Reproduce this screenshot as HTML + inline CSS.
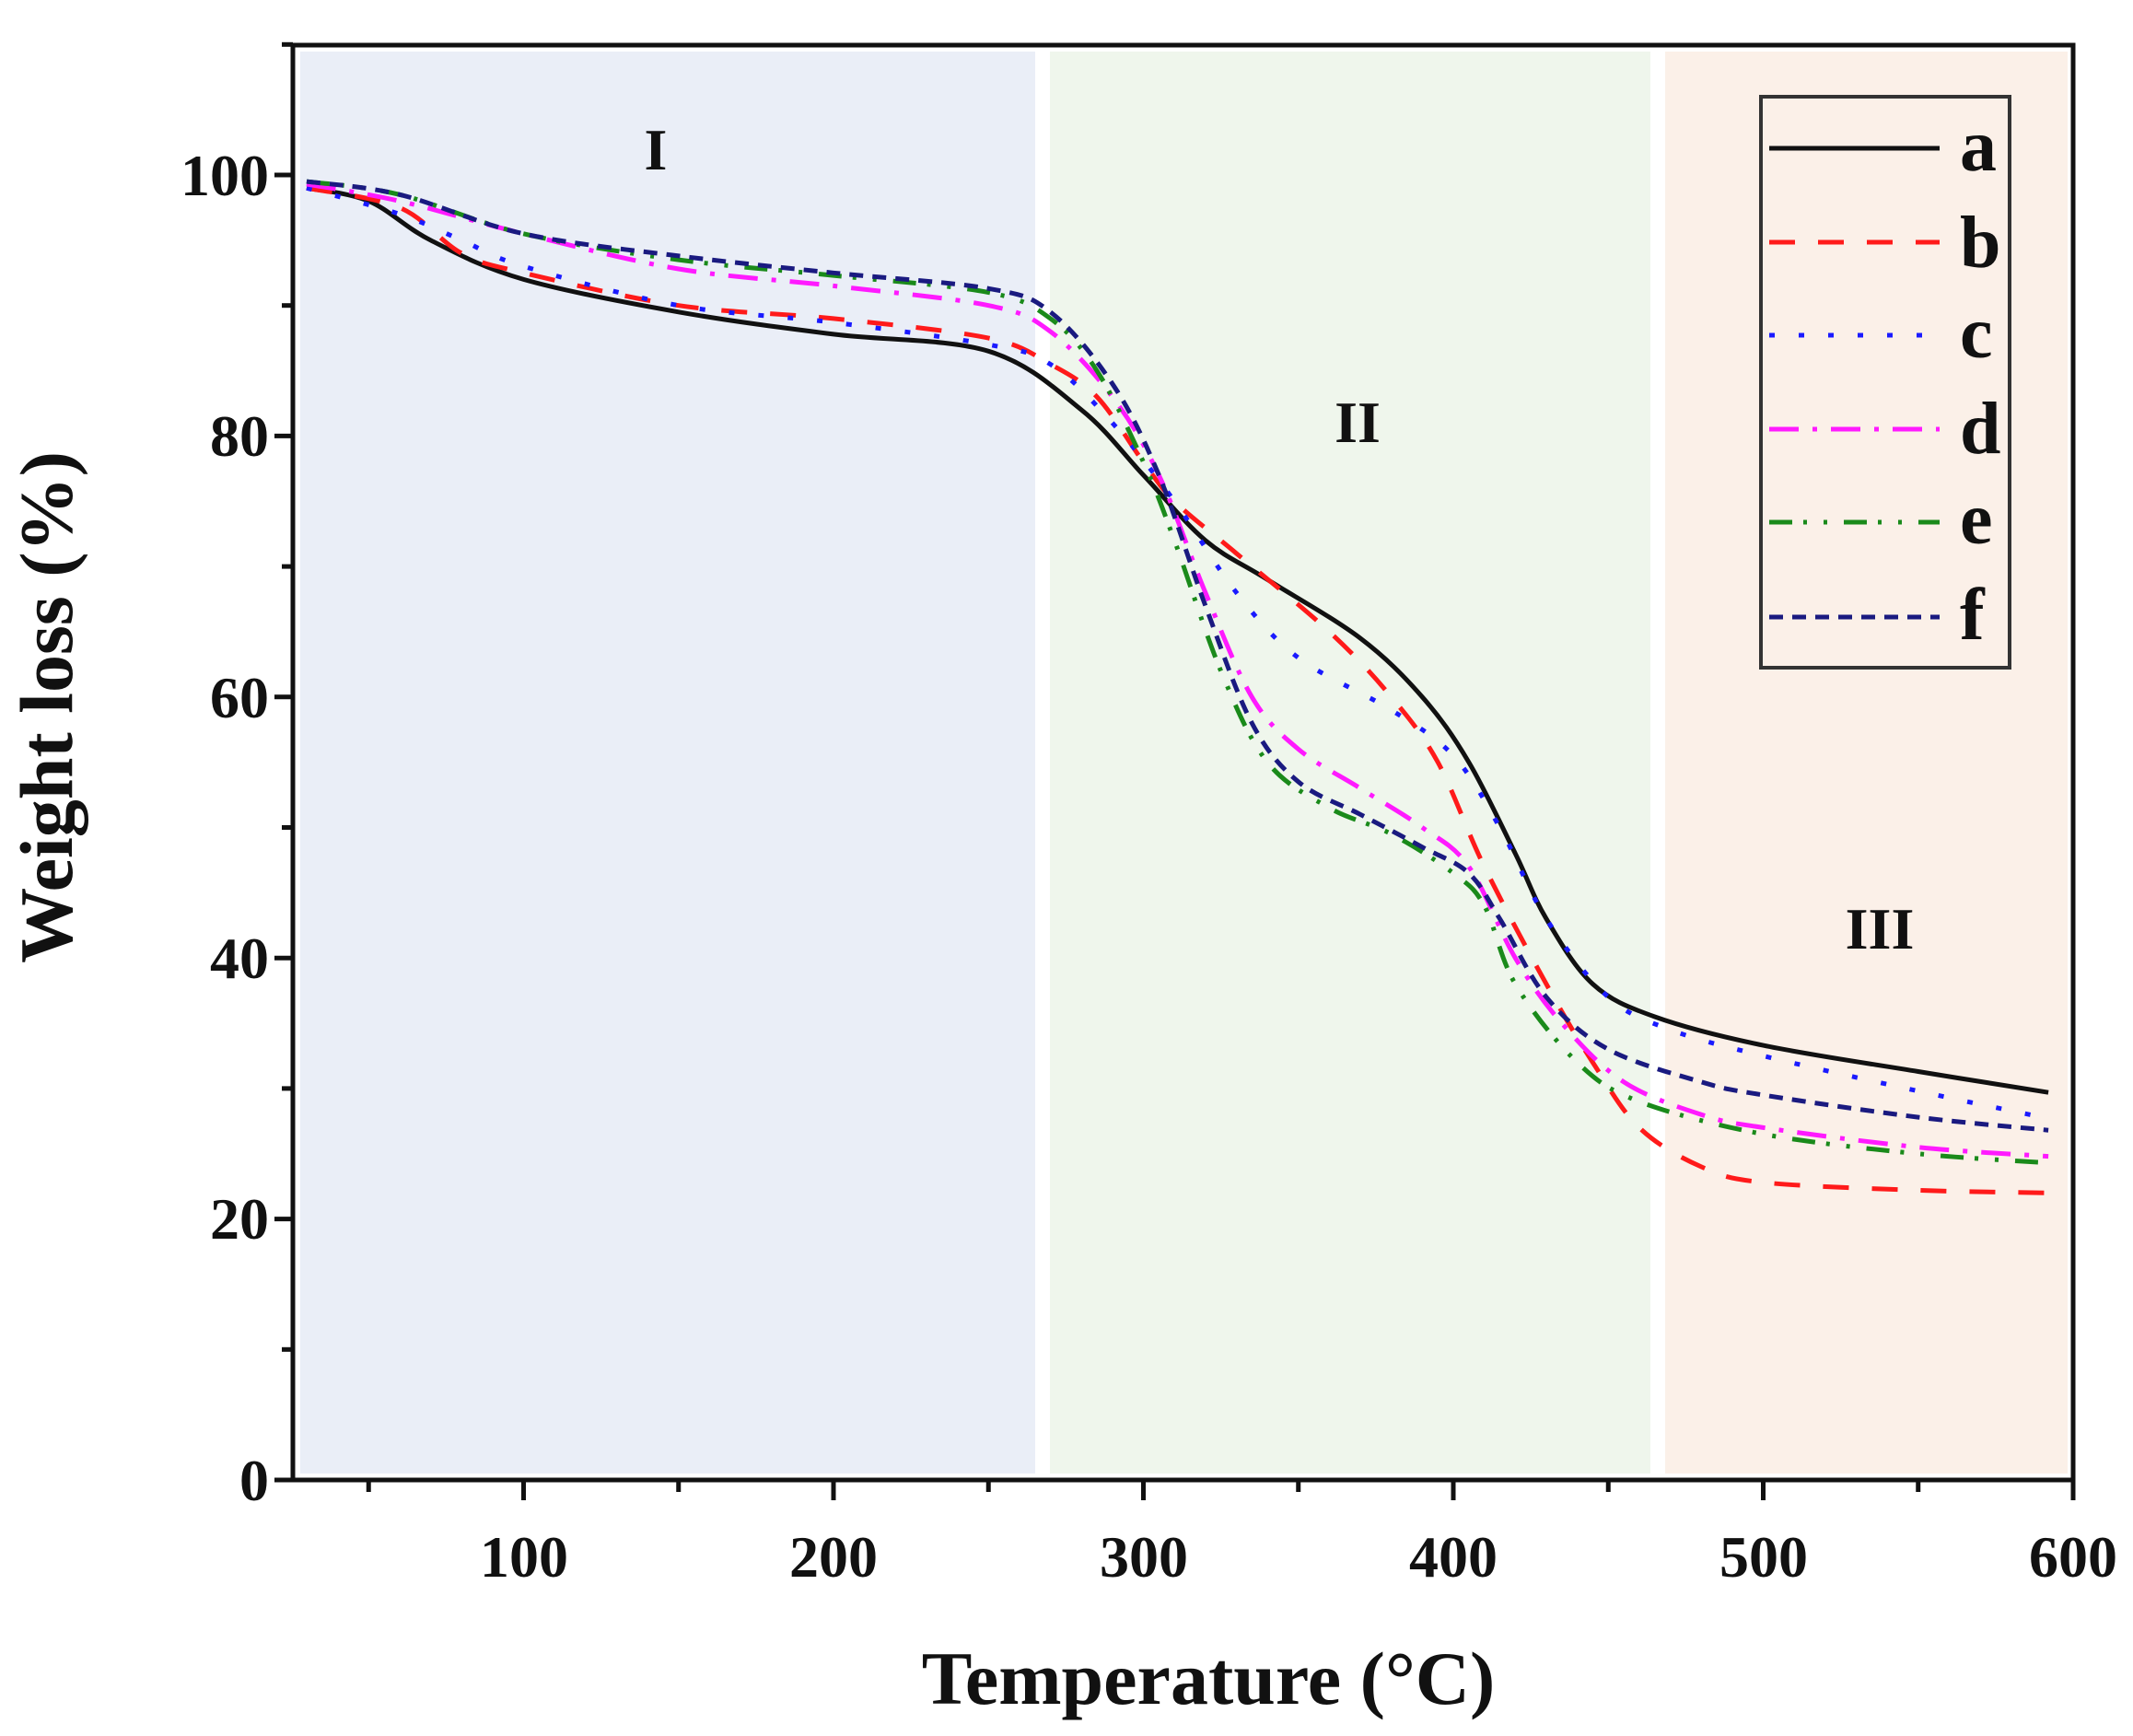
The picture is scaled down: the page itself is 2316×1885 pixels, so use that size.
<!DOCTYPE html>
<html><head><meta charset="utf-8">
<style>
html,body{margin:0;padding:0;background:#fff;}
svg{display:block;}
text{font-family:"Liberation Serif",serif;font-weight:bold;fill:#111;}
</style></head>
<body>
<svg id="s" width="2316" height="1885" viewBox="0 0 2316 1885" xmlns="http://www.w3.org/2000/svg">
<rect x="0" y="0" width="2316" height="1885" fill="#fff"/>
<rect x="326" y="56" width="798" height="1544" fill="#eaeef7"/>
<rect x="1140" y="56" width="652" height="1544" fill="#eff6ec"/>
<rect x="1808" y="56" width="437" height="1544" fill="#fbf0e8"/>
<g id="curves" fill="none" stroke-width="5"></g>
<rect x="318" y="49" width="1933" height="1558" fill="none" stroke="#111" stroke-width="5"/>
<g id="ticks" stroke="#111" stroke-width="5"></g>
<g font-size="64" text-anchor="end">
<text x="292" y="1629">0</text>
<text x="292" y="1345">20</text>
<text x="292" y="1062">40</text>
<text x="292" y="779">60</text>
<text x="292" y="495">80</text>
<text x="292" y="212">100</text>
</g>
<g font-size="64" text-anchor="middle">
<text x="569" y="1712">100</text>
<text x="905" y="1712">200</text>
<text x="1242" y="1712">300</text>
<text x="1578" y="1712">400</text>
<text x="1915" y="1712">500</text>
<text x="2251" y="1712">600</text>
</g>
<text x="1312" y="1850" font-size="82" text-anchor="middle">Temperature (°C)</text>
<text transform="translate(78,768) rotate(-90)" font-size="82" text-anchor="middle">Weight loss (%)</text>
<g font-size="64" text-anchor="middle">
<text x="712" y="184">I</text>
<text x="1474" y="480">II</text>
<text x="2041" y="1030">III</text>
</g>
<rect x="1912" y="105" width="270" height="620" fill="none" stroke="#333" stroke-width="4"/>
<g id="leg" stroke-width="5"></g>
<g font-size="80">
<text x="2128" y="185">a</text>
<text x="2128" y="290">b</text>
<text x="2128" y="388">c</text>
<text x="2128" y="492">d</text>
<text x="2128" y="590">e</text>
<text x="2128" y="694">f</text>
</g>
</svg>
<script>
var NS="http://www.w3.org/2000/svg";
function X(t){return 1241.5+(t-300)*3.365;}
function Y(v){return 1607-v*14.17;}
var series=[
 ["#111","",[[30,99],[50,98],[70,95],[100,92],[150,89.5],[200,87.8],[250,86.5],[280,82],[300,77],[320,72],[340,69],[370,64.5],[390,60],[405,55],[420,48],[430,43],[445,38],[465,35.5],[500,33.3],[550,31.3],[592,29.7]]],
 ["#ff1a1a","28 25",[[30,99],[60,97.5],[80,94],[100,92.5],[150,90],[200,89],[250,87.5],[270,85.5],[285,83],[300,78],[310,75],[330,71],[360,65],[380,60],[395,55],[410,47],[430,38],[445,32],[460,27],[480,24],[500,22.8],[550,22.2],[592,22]]],
 ["#1a1aff","6 26",[[30,99],[60,97],[80,95],[100,93],[150,90],[200,88.7],[250,87],[270,85.5],[290,81],[310,75],[330,68],[350,63],[380,59],[400,55.5],[415,50],[430,43],[450,37],[470,34.5],[500,32.5],[550,29.8],[592,27.7]]],
 ["#ff1aff","32 15 5 15",[[30,99.3],[60,98],[100,95.5],[150,92.8],[200,91.5],[250,90],[270,88],[290,83],[305,77],[320,68],[335,60],[350,56],[370,53],[390,50],[405,47],[420,40],[435,35],[455,30.5],[480,28],[500,27],[550,25.5],[592,24.8]]],
 ["#1a8a1a","25 12 4 18 4 18",[[30,99.5],[60,98.5],[100,95.5],[150,93.5],[200,92.3],[250,91],[270,89],[285,85],[300,78],[310,72],[325,62],[340,55],[360,51.5],[380,49.5],[400,46.5],[410,44],[420,38],[440,32],[460,29],[500,26.5],[550,25],[592,24.3]]],
 ["#1a1a80","15 10",[[30,99.5],[60,98.5],[100,95.5],[150,93.8],[200,92.5],[250,91.3],[270,89.5],[290,84],[305,77],[320,67],[335,58],[350,53.5],[370,51],[390,48.5],[405,46.5],[415,43],[430,37],[450,33],[480,30.5],[500,29.5],[550,27.8],[592,26.8]]]
];
function path(pts){
 var p=pts.map(function(q){return [X(q[0]),Y(q[1])];});
 var d="M"+p[0][0]+","+p[0][1];
 for(var i=0;i<p.length-1;i++){
  var p0=p[Math.max(i-1,0)],p1=p[i],p2=p[i+1],p3=p[Math.min(i+2,p.length-1)];
  var c1=[p1[0]+(p2[0]-p0[0])/6,p1[1]+(p2[1]-p0[1])/6];
  var c2=[p2[0]-(p3[0]-p1[0])/6,p2[1]-(p3[1]-p1[1])/6];
  d+=" C"+c1[0].toFixed(1)+","+c1[1].toFixed(1)+" "+c2[0].toFixed(1)+","+c2[1].toFixed(1)+" "+p2[0].toFixed(1)+","+p2[1].toFixed(1);
 }
 return d;
}
var g=document.getElementById("curves"),lg=document.getElementById("leg");
var ly=[161,263,364,466,567,670];
series.forEach(function(s,i){
 var e=document.createElementNS(NS,"path");
 e.setAttribute("d",path(s[2]));e.setAttribute("stroke",s[0]);
 if(s[1])e.setAttribute("stroke-dasharray",s[1]);
 g.appendChild(e);
 var l=document.createElementNS(NS,"line");
 l.setAttribute("x1",1921);l.setAttribute("x2",2106);l.setAttribute("y1",ly[i]);l.setAttribute("y2",ly[i]);
 l.setAttribute("stroke",s[0]);if(s[1])l.setAttribute("stroke-dasharray",s[1]);
 lg.appendChild(l);
});
var tk=document.getElementById("ticks"),h="";
for(var v=0;v<=110;v+=10){var y=Y(v);var L=(v%20==0)?20:12;h+='<line x1="'+(318-L)+'" x2="318" y1="'+y+'" y2="'+y+'"/>';}
for(var t=50;t<=600;t+=50){var x=X(t);var L=(t%100==0)?22:13;h+='<line x1="'+x+'" x2="'+x+'" y1="1607" y2="'+(1607+L)+'"/>';}
tk.innerHTML=h;
</script>
</body></html>
